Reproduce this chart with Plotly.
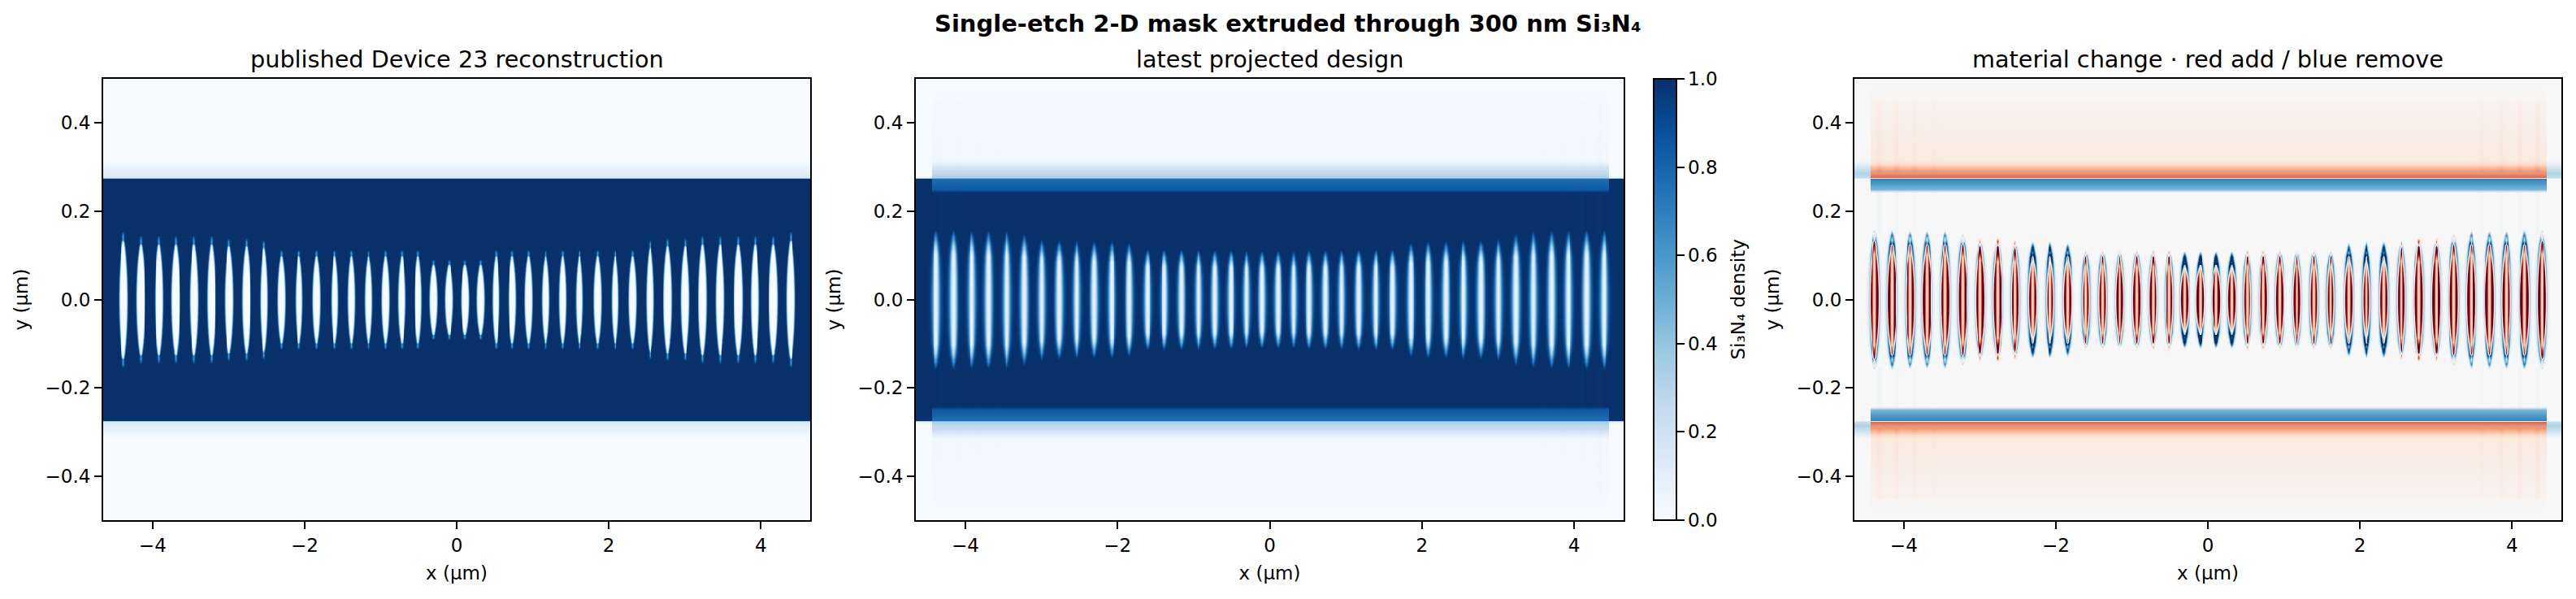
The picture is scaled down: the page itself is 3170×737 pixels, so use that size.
import numpy as np
import plotly.graph_objects as go

W, H = 3170, 737

blues = ['#f7fbff', '#deebf7', '#c6dbef', '#9ecae1', '#6baed6', '#4292c6', '#2171b5', '#08519c', '#08306b']
rdbu_r = ['#053061', '#2166ac', '#4393c3', '#92c5de', '#d1e5f0', '#f7f7f7', '#fddbc7', '#f4a582', '#d6604d', '#b2182b', '#67001f']

x_ticks = [-4, -2, 0, 2, 4]
y_ticks = [-0.4, -0.2, 0.0, 0.2, 0.4]
titles = ['published Device 23 reconstruction', 'latest projected design', 'material change · red add / blue remove']
suptitle = 'Single-etch 2-D mask extruded through 300 nm Si₃N₄'

# values, left half of the device, outermost hole first (right half mirrors it)
hole_x = [-4.39, -4.16, -3.92, -3.70, -3.46, -3.23, -3.00, -2.77, -2.54, -2.31,
          -2.08, -1.85, -1.61, -1.39, -1.165, -0.94, -0.726, -0.513, -0.31, -0.105]
pub_half_len = [0.155, 0.145, 0.145, 0.145, 0.145, 0.145, 0.140, 0.140, 0.136, 0.114,
                0.114, 0.114, 0.114, 0.114, 0.114, 0.114, 0.114, 0.114, 0.092, 0.092]
pub_half_w = [0.053, 0.053, 0.050, 0.053, 0.053, 0.050, 0.053, 0.050, 0.046, 0.046,
              0.042, 0.046, 0.042, 0.042, 0.046, 0.046, 0.046, 0.042, 0.046, 0.050]
new_half_len = [0.160, 0.160, 0.158, 0.158, 0.158, 0.150, 0.140, 0.136, 0.136, 0.134,
                0.134, 0.130, 0.116, 0.116, 0.116, 0.116, 0.114, 0.114, 0.112, 0.112]
new_sigma = [0.048, 0.048, 0.047, 0.047, 0.047, 0.047, 0.046, 0.047, 0.044, 0.045,
             0.043, 0.043, 0.043, 0.042, 0.042, 0.042, 0.042, 0.042, 0.042, 0.042]

# density against |y| across the waveguide edge
edge_y = [0.0, 0.242, 0.250, 0.262, 0.270, 0.274, 0.277, 0.281, 0.285, 0.292, 0.300, 0.306, 0.315, 0.5]
pub_edge = [1.0, 1.0, 1.0, 1.0, 1.0, 1.0, 0.14, 0.12, 0.11, 0.09, 0.07, 0.03, 0.0, 0.0]
new_edge = [1.0, 1.0, 0.84, 0.80, 0.78, 0.76, 0.34, 0.30, 0.27, 0.24, 0.18, 0.09, 0.03, 0.0]
end_edge = [1.0, 1.0, 1.0, 1.0, 1.0, 1.0, 0.06, 0.02, 0.0, 0.0, 0.0, 0.0, 0.0, 0.0]

device_end = 4.45
# faint vertical streaks left by the projection near the taper ends
streak_x = [-4.33, -4.10, -3.86, -3.60]
streak_amp = [0.014, 0.014, 0.009, 0.006]
streak_top = 0.45
background_gain = 0.004

x = np.arange(-4.65, 4.6501, 0.01)
y = np.arange(-0.5, 0.5001, 0.002)
xx, yy = np.meshgrid(x, y)
ay = np.abs(yy)


def pub_holes():
    out = np.zeros_like(xx)
    for cx, ln, wd in zip(hole_x, pub_half_len, pub_half_w):
        for c in (cx, -cx):
            dx = np.abs(xx - c)
            t = np.clip(1 - (ay / (ln * 0.9)) ** 2, 0, 1)
            v = np.clip(0.5 + (wd * t ** 0.7 - dx) / 0.035, 0, 1)
            v = v * v * (3 - 2 * v)
            out = np.maximum(out, v * np.clip(t * 9, 0, 1))
            # narrow blue tail past the end of the core
            tt = np.clip(1 - (ay / ln) ** 2, 0, 1)
            v2 = np.clip(0.5 + (0.008 - dx) / 0.03, 0, 1)
            out = np.maximum(out, v2 * np.clip(tt * 8, 0, 1) * 0.5)
    return out


def new_holes():
    out = np.zeros_like(xx)
    for cx, ln, sg in zip(hole_x, new_half_len, new_sigma):
        for c in (cx, -cx):
            t = np.clip(1 - (ay / ln) ** 2, 0, 1)
            s = sg * np.sqrt(t) + 1e-3
            out = np.maximum(out, 0.93 * np.exp(-((xx - c) / s) ** 2) * np.clip(t * 1.7, 0, 1))
    return out


published = np.clip(np.interp(ay, edge_y, pub_edge) - pub_holes(), 0, 1)

inside = np.abs(xx) < device_end
latest = np.where(inside, np.interp(ay, edge_y, new_edge), np.interp(ay, edge_y, end_edge))
# slight residual density outside the guide
latest = latest + inside * (ay > 0.3) * (ay < streak_top) * background_gain
for sx, amp in zip(streak_x, streak_amp):
    for c in (sx, -sx):
        s = np.clip(1 - np.abs(xx - c) / 0.05, 0, 1) * amp
        latest = latest + s * (ay > 0.29) * (ay < streak_top) * inside
        latest = latest - s * (ay < 0.245) * (ay > 0.15) * inside
latest = np.clip(latest - new_holes(), 0, 1)

change = latest - published

fig = go.Figure()
font_dict = dict(family='DejaVu Sans', color='black', size=23)
title_font = dict(family='DejaVu Sans', size=28.7, color='black')

top, bottom = 97, 640
ydom = [(H - bottom) / H, (H - top) / H]
xdoms = [[127 / W, 997 / W], [1127 / W, 1998 / W], [2282 / W, 3152 / W]]

fig.add_trace(go.Heatmap(x=x, y=y, z=published, colorscale=blues, zmin=0, zmax=1, showscale=False,
                         zsmooth='best', hoverinfo='skip', xaxis='x', yaxis='y'))
fig.add_trace(go.Heatmap(x=x, y=y, z=latest, colorscale=blues, zmin=0, zmax=1, zsmooth='best',
                         hoverinfo='skip', xaxis='x2', yaxis='y2',
                         colorbar=dict(x=2035 / W, xanchor='left', xpad=0, ypad=0, thickness=28,
                                       thicknessmode='pixels', lenmode='fraction', len=ydom[1] - ydom[0],
                                       y=ydom[0], yanchor='bottom', outlinewidth=2, outlinecolor='black',
                                       ticks='outside', ticklen=9, tickwidth=2, tickcolor='black',
                                       tickvals=[0, 0.2, 0.4, 0.6, 0.8, 1.0], tickformat='.1f',
                                       tickfont=font_dict)))
fig.add_trace(go.Heatmap(x=x, y=y, z=change, colorscale=rdbu_r, zmin=-0.35, zmax=0.35, showscale=False,
                         zsmooth='best', hoverinfo='skip', xaxis='x3', yaxis='y3'))

axis_style = dict(showline=True, linecolor='black', linewidth=2, mirror=True, ticks='outside', ticklen=9,
                  tickwidth=2, tickcolor='black', tickfont=font_dict, showgrid=False, zeroline=False)
for i in range(3):
    sx = '' if i == 0 else str(i + 1)
    fig.update_layout({
        'xaxis' + sx: dict(domain=xdoms[i], range=[-4.65, 4.65], tickmode='array', tickvals=x_ticks,
                           title=dict(text='x (µm)', font=font_dict, standoff=14), anchor='y' + sx, **axis_style),
        'yaxis' + sx: dict(domain=ydom, range=[-0.5, 0.5], tickmode='array', tickvals=y_ticks, tickformat='.1f',
                           title=dict(text='y (µm)', font=font_dict, standoff=14), anchor='x' + sx, **axis_style),
    })
    fig.add_annotation(text=titles[i], xref='paper', yref='paper', x=sum(xdoms[i]) / 2, y=(H - 73) / H,
                       xanchor='center', yanchor='middle', showarrow=False, font=title_font)

fig.add_annotation(text='<b>' + suptitle + '</b>', xref='paper', yref='paper', x=0.5, y=(H - 29) / H,
                   xanchor='center', yanchor='middle', showarrow=False,
                   font=dict(family='DejaVu Sans', size=29, color='black'))
# colorbar label sits closer to the ticks than plotly's own title
fig.add_annotation(text='Si₃N₄ density', xref='paper', yref='paper', x=2138 / W, y=sum(ydom) / 2,
                   xanchor='center', yanchor='middle', textangle=-90, showarrow=False, font=font_dict)

fig.update_layout(width=W, height=H, margin=dict(l=0, r=0, t=0, b=0), paper_bgcolor='white',
                  plot_bgcolor='white', showlegend=False, font=font_dict)

fig.write_html('out.html', post_script="document.body.style.margin='0';", config={'displayModeBar': False})
